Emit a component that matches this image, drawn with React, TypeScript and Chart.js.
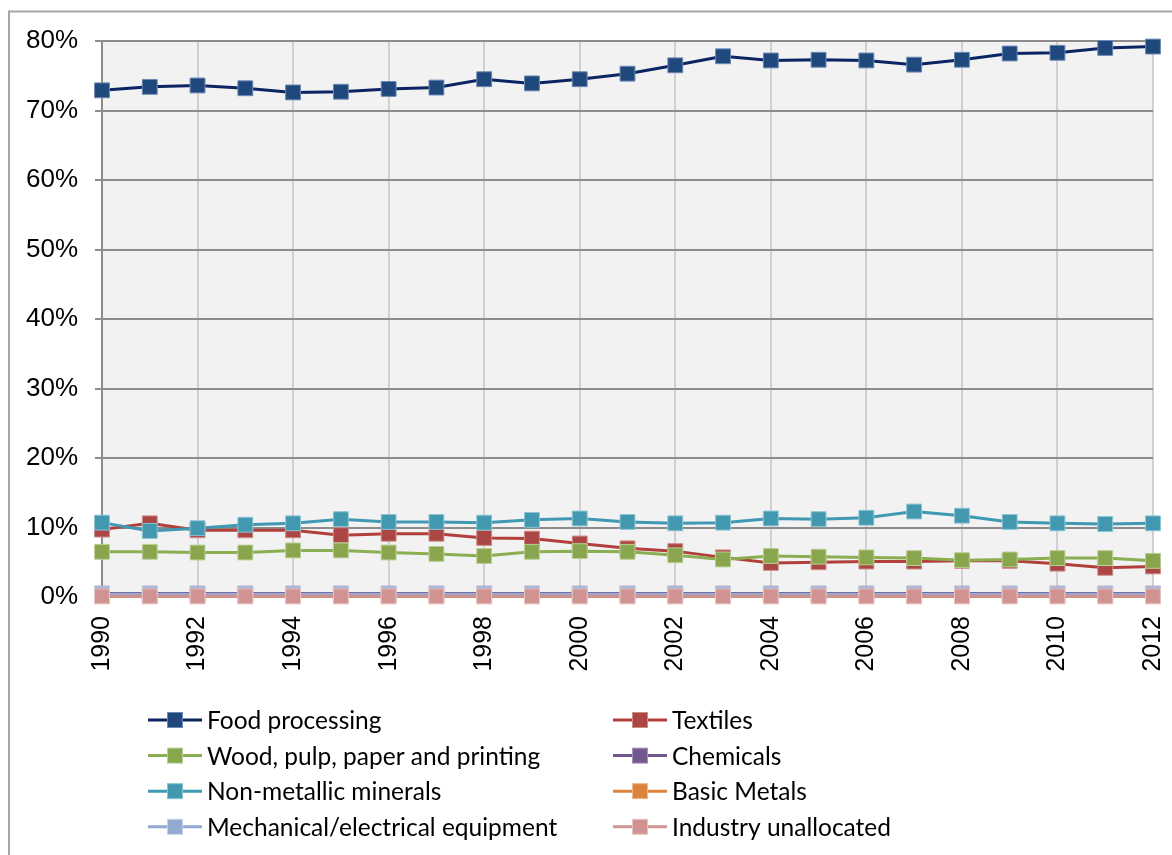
import React, { useEffect, useRef } from "react";
import { Chart, registerables } from "chart.js";

Chart.register(...registerables);

const years: string[] = [
  "1990", "1991", "1992", "1993", "1994", "1995", "1996", "1997", "1998", "1999", "2000", "2001",
  "2002", "2003", "2004", "2005", "2006", "2007", "2008", "2009", "2010", "2011", "2012",
];

const foodProcessing: number[] = [
  72.9, 73.4, 73.6, 73.2, 72.6, 72.7, 73.1, 73.3, 74.5, 73.9, 74.5, 75.3,
  76.5, 77.8, 77.2, 77.3, 77.2, 76.6, 77.3, 78.2, 78.3, 79.0, 79.2,
];
const textiles: number[] = [
  9.7, 10.6, 9.6, 9.6, 9.6, 8.9, 9.1, 9.1, 8.5, 8.4, 7.7, 7.0,
  6.6, 5.7, 4.9, 5.0, 5.1, 5.1, 5.2, 5.2, 4.8, 4.2, 4.4,
];
const wood: number[] = [
  6.5, 6.5, 6.4, 6.4, 6.7, 6.7, 6.4, 6.2, 5.9, 6.5, 6.6, 6.5,
  6.0, 5.4, 5.9, 5.8, 5.7, 5.6, 5.3, 5.4, 5.6, 5.6, 5.2,
];
const chemicals: number[] = [
  0.5, 0.5, 0.5, 0.5, 0.5, 0.5, 0.5, 0.5, 0.5, 0.5, 0.5, 0.5,
  0.5, 0.5, 0.5, 0.5, 0.5, 0.5, 0.5, 0.5, 0.5, 0.5, 0.5,
];
const nonMetallic: number[] = [
  10.7, 9.5, 9.9, 10.4, 10.6, 11.2, 10.8, 10.8, 10.7, 11.1, 11.3, 10.8,
  10.6, 10.7, 11.3, 11.2, 11.4, 12.3, 11.7, 10.8, 10.6, 10.5, 10.6,
];
const basicMetals: number[] = [
  0.1, 0.1, 0.1, 0.1, 0.1, 0.1, 0.1, 0.1, 0.1, 0.1, 0.1, 0.1,
  0.1, 0.1, 0.1, 0.1, 0.1, 0.1, 0.1, 0.1, 0.1, 0.1, 0.1,
];
const mechanical: number[] = [
  0.4, 0.4, 0.4, 0.4, 0.4, 0.4, 0.4, 0.4, 0.4, 0.4, 0.4, 0.4,
  0.4, 0.4, 0.4, 0.4, 0.4, 0.4, 0.4, 0.4, 0.4, 0.4, 0.4,
];
const unallocated: number[] = [
  0.1, 0.1, 0.1, 0.1, 0.1, 0.1, 0.1, 0.1, 0.1, 0.1, 0.1, 0.1,
  0.1, 0.1, 0.1, 0.1, 0.1, 0.1, 0.1, 0.1, 0.1, 0.1, 0.1,
];

const seriesNames: string[] = [
  "Food processing",
  "Textiles",
  "Wood, pulp, paper and printing",
  "Chemicals",
  "Non-metallic minerals",
  "Basic Metals",
  "Mechanical/electrical equipment",
  "Industry unallocated",
];
const seriesValues: number[][] = [
  foodProcessing, textiles, wood, chemicals, nonMetallic, basicMetals, mechanical, unallocated,
];
const lineColors: string[] = [
  "#0b2463", "#b1403d", "#8cae52", "#71588f", "#3f99b2", "#db843d", "#93a9cf", "#d19392",
];
const markerColors: string[] = [
  "#1f497d", "#aa4643", "#89a54e", "#71588f", "#4198af", "#db843d", "#93a9cf", "#d19392",
];
const markerBorders: string[] = [
  "#6c88b4", "#cf8a88", "#b9cf93", "#a595bd", "#8cc4d4", "#efb98c", "#c4d1e8", "#e8c3c2",
];

const yTicks: number[] = [0, 10, 20, 30, 40, 50, 60, 70, 80];

const framePlugin = {
  id: "frame",
  beforeDraw(chart: any) {
    const { ctx, chartArea } = chart;
    ctx.save();
    ctx.fillStyle = "#ffffff";
    ctx.fillRect(0, 0, chart.width, chart.height);
    ctx.strokeStyle = "#a6a6a6";
    ctx.lineWidth = 2;
    ctx.beginPath();
    ctx.moveTo(9, 855);
    ctx.lineTo(9, 11.5);
    ctx.lineTo(1172, 11.5);
    ctx.stroke();
    ctx.fillStyle = "#f2f2f2";
    ctx.fillRect(chartArea.left, chartArea.top, chartArea.right - chartArea.left, chartArea.bottom - chartArea.top);
    ctx.restore();
  },
  afterDraw(chart: any) {
    const { ctx } = chart;
    const datasets = chart.data.datasets;
    ctx.save();
    ctx.font = "24.5px Lato, 'Noto Sans', sans-serif";
    ctx.textBaseline = "middle";
    ctx.textAlign = "left";
    datasets.forEach((ds: any, i: number) => {
      const col = i % 2;
      const row = Math.floor(i / 2);
      const x0 = col === 0 ? 148 : 613;
      const y = 720 + row * 35.6;
      ctx.strokeStyle = ds.borderColor;
      ctx.lineWidth = 3;
      ctx.beginPath();
      ctx.moveTo(x0, y);
      ctx.lineTo(x0 + 54, y);
      ctx.stroke();
      const mx = x0 + 27;
      ctx.fillStyle = ds.pointBackgroundColor;
      ctx.fillRect(mx - 7.5, y - 7.5, 15, 15);
      ctx.strokeStyle = ds.pointBorderColor;
      ctx.lineWidth = 1;
      ctx.strokeRect(mx - 7.5, y - 7.5, 15, 15);
      ctx.fillStyle = "#000000";
      ctx.fillText(ds.label, x0 + 59, y + 1);
    });
    ctx.restore();
  },
};

export default function App() {
  const canvasRef = useRef<HTMLCanvasElement | null>(null);

  useEffect(() => {
    if (!canvasRef.current) return;
    const chart = new Chart(canvasRef.current, {
      type: "line",
      data: {
        labels: years,
        datasets: seriesNames.map((name, i) => ({
          label: name,
          data: seriesValues[i],
          borderColor: lineColors[i],
          backgroundColor: markerColors[i],
          borderWidth: 3,
          pointStyle: "rect",
          pointRadius: 10.5,
          pointHoverRadius: 10.5,
          pointBackgroundColor: markerColors[i],
          pointBorderColor: markerBorders[i],
          pointBorderWidth: 1,
          tension: 0,
          clip: false as any,
          order: seriesNames.length - 1 - i,
        })),
      },
      options: {
        responsive: false,
        animation: false,
        devicePixelRatio: 1,
        layout: { padding: { left: 0, right: 19, top: 41, bottom: 158 } },
        plugins: {
          legend: { display: false },
          tooltip: { enabled: false },
        },
        scales: {
          x: {
            type: "category",
            offset: false,
            grid: {
              color: (c: any) => (c.index % 2 === 0 ? "#d0d0d0" : "rgba(0,0,0,0)"),
              lineWidth: 2,
              drawTicks: false,
            },
            border: { display: true, color: "#8c8c8c", width: 2 },
            ticks: {
              autoSkip: false,
              maxRotation: 90,
              minRotation: 90,
              padding: 19,
              color: "#000000",
              font: { family: "'Liberation Sans', Arial, sans-serif", size: 25 },
              callback: (_v: any, idx: number) => (idx % 2 === 0 ? years[idx] : ""),
            },
            afterFit: (scale: any) => {
              scale.height = 100;
              scale.paddingLeft = 0;
              scale.paddingRight = 0;
            },
          },
          y: {
            min: 0,
            max: 80,
            afterBuildTicks: (scale: any) => {
              scale.ticks = yTicks.map((v) => ({ value: v }));
            },
            grid: {
              color: "#8c8c8c",
              lineWidth: 2,
              tickLength: 7,
            },
            border: { display: true, color: "#8c8c8c", width: 2 },
            ticks: {
              padding: 17,
              color: "#000000",
              font: { family: "'Liberation Sans', Arial, sans-serif", size: 26 },
              callback: (v: any) => `${v}%`,
            },
            afterFit: (scale: any) => {
              scale.width = 102;
            },
          },
        },
      },
      plugins: [framePlugin],
    });
    return () => chart.destroy();
  }, []);

  return (
    <div style={{ position: "absolute", left: 0, top: 0, width: 1172, height: 855 }}>
      <canvas ref={canvasRef} width={1172} height={855} style={{ display: "block" }} />
    </div>
  );
}
